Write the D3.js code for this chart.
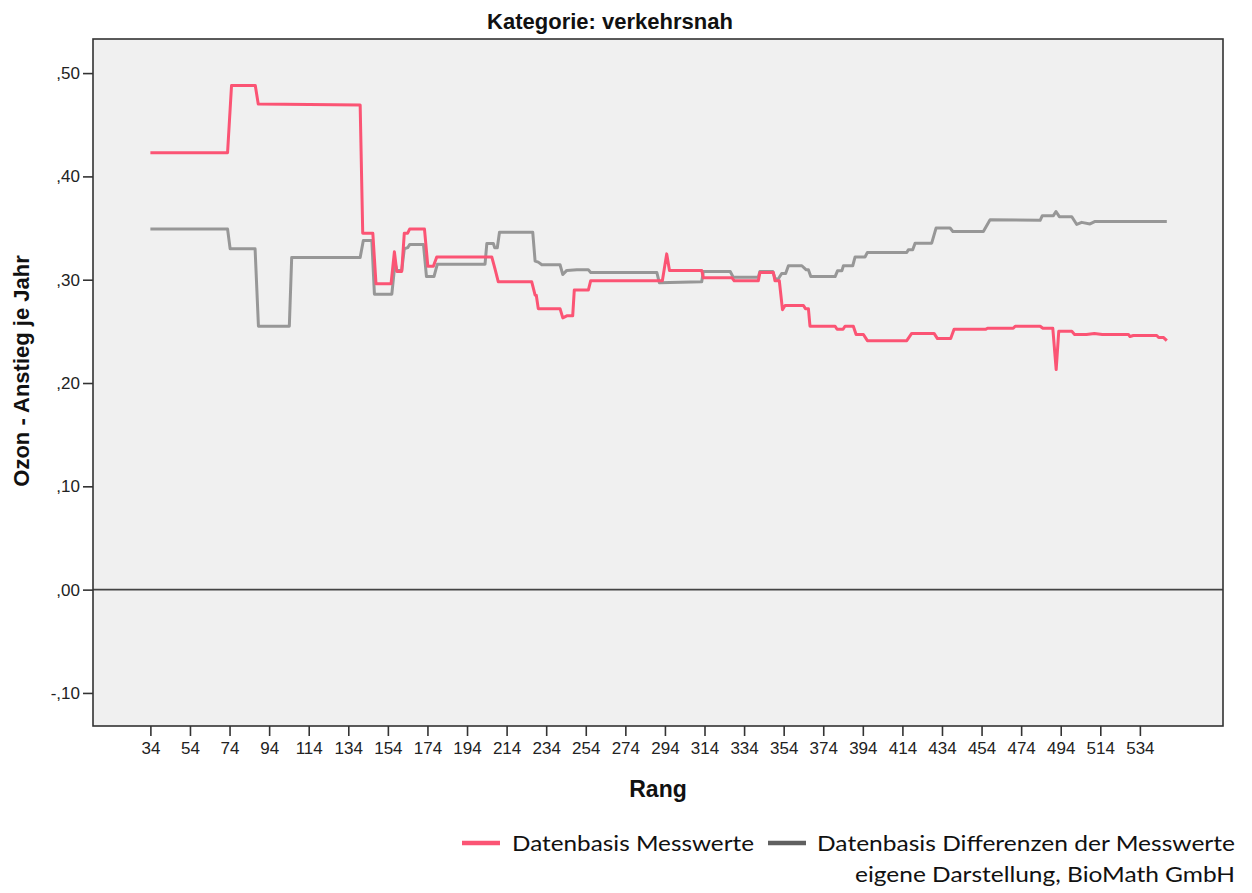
<!DOCTYPE html>
<html>
<head>
<meta charset="utf-8">
<script src="https://cdn.jsdelivr.net/npm/d3@7"></script>
<style>
  html, body { margin: 0; padding: 0; background: #ffffff; }
  svg { display: block; }
</style>
</head>
<body>
<svg id="chart" width="1252" height="893"></svg>
<script>
// ---- Data ----
const chartTitle = "Kategorie: verkehrsnah";
const xAxisTitle = "Rang";
const yAxisTitle = "Ozon - Anstieg je Jahr";
const seriesNames = ["Datenbasis Messwerte", "Datenbasis Differenzen der Messwerte"];
const creditText = "eigene Darstellung, BioMath GmbH";

const xTickLabels = [34, 54, 74, 94, 114, 134, 154, 174, 194, 214, 234, 254, 274, 294, 314, 334, 354, 374, 394, 414, 434, 454, 474, 494, 514, 534];
const yTickValues = [-0.10, 0.00, 0.10, 0.20, 0.30, 0.40, 0.50];

// Series 1: Datenbasis Messwerte (rank, value at each vertex of the step line)
const messRank = [34, 73, 75, 87, 88.5, 140, 141.3, 146.4, 148, 155.6, 157.3, 158.5, 161, 162.3, 164, 165, 172.5, 174.2, 177, 178.7, 206.5, 208.2, 209.8, 226.7, 228.4, 229, 230, 241, 242.4, 244.4, 247.4, 248.2, 255.3, 256.5, 292.7, 294.9, 296.3, 312.6, 313.4, 327.8, 329, 341.2, 342, 348.8, 349.6, 351.8, 353.4, 354.7, 364, 365, 366.5, 367.3, 380, 381, 384, 385, 389.2, 390.6, 394.3, 396.3, 416.2, 418.7, 430, 431.7, 438.4, 440.1, 456, 457, 470, 471, 483.6, 485, 490, 491.7, 493, 499.6, 501, 507, 511, 515, 528.2, 529, 530.7, 542.5, 543.5, 546, 547.6];
const messValue = [0.423, 0.423, 0.488, 0.488, 0.470, 0.469, 0.345, 0.345, 0.296, 0.296, 0.327, 0.308, 0.308, 0.345, 0.345, 0.349, 0.349, 0.313, 0.313, 0.322, 0.322, 0.310, 0.298, 0.298, 0.285, 0.285, 0.272, 0.272, 0.263, 0.265, 0.265, 0.290, 0.290, 0.299, 0.299, 0.325, 0.309, 0.309, 0.302, 0.302, 0.299, 0.299, 0.307, 0.307, 0.299, 0.299, 0.271, 0.275, 0.275, 0.272, 0.272, 0.255, 0.255, 0.252, 0.252, 0.255, 0.255, 0.247, 0.247, 0.241, 0.241, 0.248, 0.248, 0.243, 0.243, 0.252, 0.252, 0.253, 0.253, 0.255, 0.255, 0.253, 0.253, 0.213, 0.250, 0.250, 0.247, 0.247, 0.248, 0.247, 0.247, 0.245, 0.246, 0.246, 0.244, 0.244, 0.241];

// Series 2: Datenbasis Differenzen der Messwerte
const diffRank = [34, 73, 74.3, 86.9, 88.6, 104.2, 105.4, 140, 141.6, 145.9, 147.2, 156, 157.6, 158.5, 161, 162.3, 164, 165, 172, 173.5, 177.3, 179, 203.1, 204, 207.3, 208, 209.3, 210.4, 227.2, 228.4, 230, 231.8, 241, 242.4, 244.4, 249.5, 255.3, 256.5, 289.9, 291.2, 312.6, 313.4, 327, 328.5, 341.2, 342, 348.5, 349.6, 351, 353, 355, 356.4, 363.2, 365.4, 366.5, 367.7, 380, 381.2, 383.4, 384.2, 388.9, 390.1, 395.1, 396.3, 416.2, 417, 419.2, 420.4, 428.8, 431, 438.1, 439.5, 454.9, 458.3, 483.6, 484.7, 490.3, 491.6, 493.3, 499.6, 502.1, 504.6, 508.8, 511.4, 547.6];
const diffValue = [0.349, 0.349, 0.330, 0.330, 0.255, 0.255, 0.3215, 0.3215, 0.338, 0.338, 0.286, 0.286, 0.316, 0.309, 0.309, 0.330, 0.331, 0.334, 0.334, 0.303, 0.303, 0.315, 0.315, 0.335, 0.335, 0.331, 0.331, 0.346, 0.346, 0.318, 0.317, 0.3145, 0.3145, 0.305, 0.309, 0.3096, 0.3096, 0.307, 0.307, 0.297, 0.298, 0.308, 0.308, 0.3025, 0.3025, 0.308, 0.308, 0.3015, 0.300, 0.306, 0.306, 0.3135, 0.3135, 0.3096, 0.3096, 0.303, 0.303, 0.3086, 0.3086, 0.3135, 0.3135, 0.322, 0.322, 0.3264, 0.3264, 0.329, 0.329, 0.3354, 0.3354, 0.350, 0.350, 0.3467, 0.3467, 0.358, 0.3575, 0.362, 0.362, 0.366, 0.361, 0.361, 0.3535, 0.3555, 0.354, 0.3564, 0.3564];

// ---- Layout ----
const plot = { left: 93, right: 1223, top: 39, bottom: 726 };
const colors = { mess: "#fb5474", diff: "#979797", diffLegend: "#606060", frame: "#333333", bg: "#f0f0f0" };

const svg = d3.select("#chart");

const x = d3.scaleLinear().domain([5, 576]).range([plot.left, plot.right]);
const y = d3.scaleLinear().domain([-0.132, 0.533]).range([plot.bottom, plot.top]);

// plot background
svg.append("rect")
  .attr("x", plot.left).attr("y", plot.top)
  .attr("width", plot.right - plot.left).attr("height", plot.bottom - plot.top)
  .attr("fill", colors.bg);

// zero reference line
svg.append("line")
  .attr("x1", plot.left).attr("x2", plot.right)
  .attr("y1", y(0)).attr("y2", y(0))
  .attr("stroke", "#444").attr("stroke-width", 1.6);

// lines
const toPts = (r, v) => r.map((d, i) => [d, v[i]]);
const lineGen = d3.line().x(d => x(d[0])).y(d => y(d[1])).curve(d3.curveLinear);

svg.append("path")
  .datum(toPts(diffRank, diffValue))
  .attr("d", lineGen)
  .attr("fill", "none")
  .attr("stroke", colors.diff)
  .attr("stroke-width", 3)
  .attr("stroke-linejoin", "round");

svg.append("path")
  .datum(toPts(messRank, messValue))
  .attr("d", lineGen)
  .attr("fill", "none")
  .attr("stroke", colors.mess)
  .attr("stroke-width", 3)
  .attr("stroke-linejoin", "round");

// frame
svg.append("rect")
  .attr("x", plot.left).attr("y", plot.top)
  .attr("width", plot.right - plot.left).attr("height", plot.bottom - plot.top)
  .attr("fill", "none").attr("stroke", colors.frame).attr("stroke-width", 1.6);

// axes
const fmtY = d => (d < 0 ? "-" : "") + "," + String(Math.round(Math.abs(d) * 100)).padStart(2, "0");

const yAxis = svg.append("g")
  .attr("transform", `translate(${plot.left},0)`)
  .call(d3.axisLeft(y).tickValues(yTickValues).tickFormat(fmtY).tickSize(10).tickPadding(3));

const xAxis = svg.append("g")
  .attr("transform", `translate(0,${plot.bottom})`)
  .call(d3.axisBottom(x).tickValues(xTickLabels).tickFormat(d3.format("d")).tickSize(10).tickPadding(6));

[yAxis, xAxis].forEach(g => {
  g.select(".domain").remove();
  g.selectAll(".tick line").attr("stroke", colors.frame).attr("stroke-width", 1.6);
  g.selectAll(".tick text")
    .attr("fill", "#222")
    .style("font-family", "'Liberation Sans', Arial, sans-serif")
    .style("font-size", "17px");
});

// titles
svg.append("text")
  .attr("x", 610).attr("y", 29)
  .attr("text-anchor", "middle")
  .style("font-family", "'Liberation Sans', Arial, sans-serif")
  .style("font-weight", "bold").style("font-size", "22px")
  .attr("fill", "#111")
  .text(chartTitle);

svg.append("text")
  .attr("transform", "translate(21,371) rotate(-90)")
  .attr("text-anchor", "middle")
  .attr("dominant-baseline", "central")
  .style("font-family", "'Liberation Sans', Arial, sans-serif")
  .style("font-weight", "bold").style("font-size", "22px")
  .attr("fill", "#111")
  .text(yAxisTitle);

svg.append("text")
  .attr("x", 658).attr("y", 797)
  .attr("text-anchor", "middle")
  .style("font-family", "'Liberation Sans', Arial, sans-serif")
  .style("font-weight", "bold").style("font-size", "23px")
  .attr("fill", "#111")
  .text(xAxisTitle);

// legend
const legFont = "Lato, 'Open Sans', sans-serif";
const legend = svg.append("g");
legend.append("line").attr("x1", 462).attr("x2", 500).attr("y1", 843).attr("y2", 843)
  .attr("stroke", colors.mess).attr("stroke-width", 4.5);
legend.append("text").attr("x", 512).attr("y", 851)
  .style("font-family", legFont).style("font-size", "22px").attr("fill", "#111")
  .attr("textLength", 242).attr("lengthAdjust", "spacingAndGlyphs")
  .text(seriesNames[0]);
legend.append("line").attr("x1", 768).attr("x2", 806).attr("y1", 843).attr("y2", 843)
  .attr("stroke", colors.diffLegend).attr("stroke-width", 4.5);
legend.append("text").attr("x", 817).attr("y", 851)
  .style("font-family", legFont).style("font-size", "22px").attr("fill", "#111")
  .attr("textLength", 418).attr("lengthAdjust", "spacingAndGlyphs")
  .text(seriesNames[1]);
legend.append("text").attr("x", 855).attr("y", 882)
  .style("font-family", legFont).style("font-size", "22px").attr("fill", "#111")
  .attr("textLength", 380).attr("lengthAdjust", "spacingAndGlyphs")
  .text(creditText);
</script>
</body>
</html>
